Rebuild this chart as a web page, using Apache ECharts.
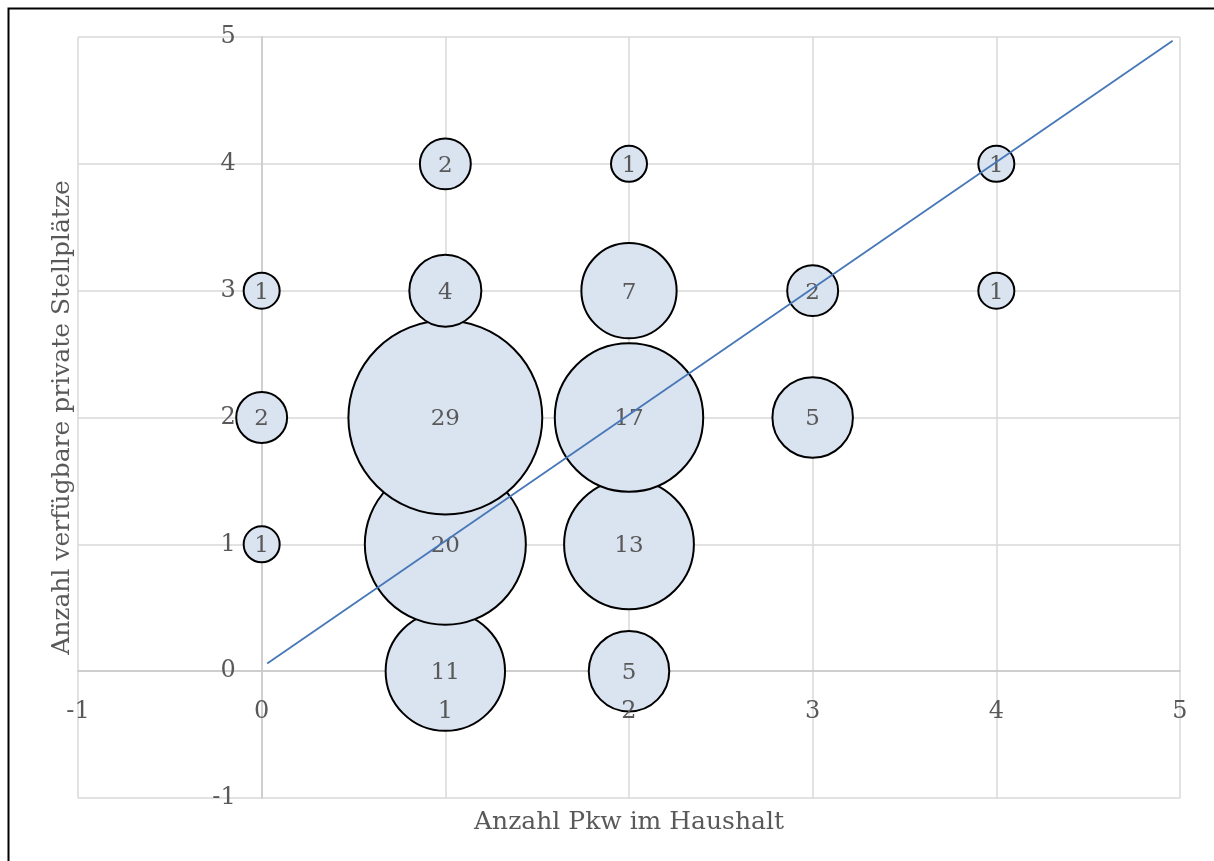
<!DOCTYPE html>
<html>
<head>
<meta charset="utf-8">
<script src="https://cdn.jsdelivr.net/npm/echarts@6/dist/echarts.min.js"></script>
<style>html,body{margin:0;padding:0;background:#fff}#c{width:1214px;height:861px}</style>
</head>
<body>
<div id="c"></div>
<script>
// Bubble data: x = Anzahl Pkw, y = Stellplätze, count (ordered by y ascending = draw order)
const carsX   = [1, 2, 0, 1, 2, 0, 1, 2, 3, 0, 1, 2, 3, 4, 1, 2, 4];
const spacesY = [0, 0, 1, 1, 1, 2, 2, 2, 2, 3, 3, 3, 3, 3, 4, 4, 4];
const counts  = [11, 5, 1, 20, 13, 2, 29, 17, 5, 1, 4, 7, 2, 1, 2, 1, 1];
// Trend line endpoints
const trendX = [0.03, 4.96];
const trendY = [0.06, 4.97];
const xTicks = [-1, 5];
const yTicks = [-1, 5];

const FONT = '"DejaVu Serif", "Liberation Serif", serif';
const bubbles = carsX.map((x, i) => [x, spacesY[i], counts[i]]);
const trend = trendX.map((x, i) => [x, trendY[i]]);

const G = {left: 78, right: 34, top: 37, bottom: 63};
const W = 1214 - G.left - G.right, H = 861 - G.top - G.bottom;
// pixel distance from grid edge to the zero line of the other axis
const xZeroOff = H * (0 - yTicks[0]) / (yTicks[1] - yTicks[0]);
const yZeroOff = W * (0 - xTicks[0]) / (xTicks[1] - xTicks[0]);

const chart = echarts.init(document.getElementById('c'));
const baseAxis = (min, max) => ({type: 'value', min, max, interval: 1});
chart.setOption({
  animation: false,
  backgroundColor: '#fff',
  grid: Object.assign({containLabel: false, outerBoundsMode: 'none'}, G),
  graphic: [{
    type: 'rect', left: 6, top: 6, z: 100,
    shape: {width: 1300, height: 1000},
    style: {fill: 'none', stroke: '#000', lineWidth: 2}
  }],
  xAxis: [
    Object.assign(baseAxis(xTicks[0], xTicks[1]), {
      position: 'bottom', z: 0,
      axisLine: {show: true, onZero: true, onZeroAxisIndex: 0, lineStyle: {color: '#c8c8c8', width: 1.5}},
      axisTick: {show: false}, axisLabel: {show: false},
      splitLine: {show: true, lineStyle: {color: '#d9d9d9', width: 1.5}}
    }),
    Object.assign(baseAxis(xTicks[0], xTicks[1]), {
      position: 'bottom', z: 10, offset: -xZeroOff,
      axisLine: {show: false, onZero: false},
      axisTick: {show: false}, splitLine: {show: false},
      axisLabel: {show: true, margin: 29, color: '#595959', fontFamily: FONT, fontSize: 24},
      name: 'Anzahl Pkw im Haushalt', nameLocation: 'middle', nameGap: 139,
      nameTextStyle: {color: '#595959', fontFamily: FONT, fontSize: 25}
    })
  ],
  yAxis: [
    Object.assign(baseAxis(yTicks[0], yTicks[1]), {
      position: 'left', z: 0,
      axisLine: {show: true, onZero: true, onZeroAxisIndex: 0, lineStyle: {color: '#c8c8c8', width: 1.5}},
      axisTick: {show: false}, axisLabel: {show: false},
      splitLine: {show: true, lineStyle: {color: '#d9d9d9', width: 1.5}}
    }),
    Object.assign(baseAxis(yTicks[0], yTicks[1]), {
      position: 'left', z: 10, offset: -yZeroOff,
      axisLine: {show: false, onZero: false},
      axisTick: {show: false}, splitLine: {show: false},
      axisLabel: {show: true, margin: 26, color: '#595959', fontFamily: FONT, fontSize: 24},
      name: 'Anzahl verfügbare private Stellplätze', nameLocation: 'middle', nameGap: 187,
      nameTextStyle: {color: '#595959', fontFamily: FONT, fontSize: 25}
    })
  ],
  series: [
    {
      type: 'scatter', xAxisIndex: 0, yAxisIndex: 0, z: 2,
      data: bubbles,
      symbolSize: v => 36 * Math.sqrt(v[2]),
      itemStyle: {color: '#dae3f0', borderColor: '#000', borderWidth: 2, opacity: 1},
      label: {show: true, position: 'inside', offset: [0, 2], formatter: p => p.value[2], color: '#595959', fontFamily: FONT, fontSize: 23},
      emphasis: {disabled: true}
    },
    {
      type: 'line', xAxisIndex: 0, yAxisIndex: 0, z: 3,
      data: trend, symbol: 'none',
      lineStyle: {color: '#4677b8', width: 1.8},
      emphasis: {disabled: true}
    }
  ]
});
</script>
</body>
</html>
